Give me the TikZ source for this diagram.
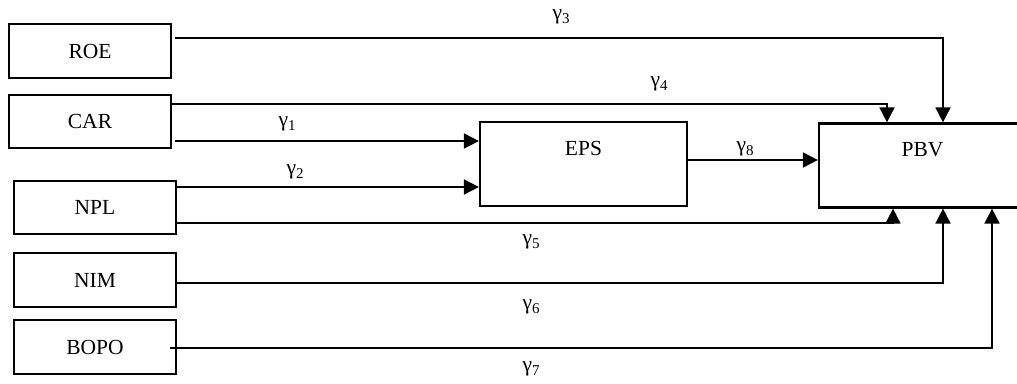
\documentclass[tikz,border=0pt]{standalone}
\usepackage{fontspec}
\setmainfont{Liberation Serif}
\usetikzlibrary{arrows.meta}

% gamma coefficient with a lowered, smaller index
\newcommand\coef[1]{γ\raisebox{-4pt}{\fontsize{15}{15}\selectfont #1}}

\begin{document}
\begin{tikzpicture}[x=1pt,y=-1pt,
  font=\fontsize{21.5}{24}\selectfont,
  varbox/.style={draw,line width=2.2pt,rectangle,inner sep=0pt,
    minimum width=162pt,minimum height=54pt},
  bigbox/.style={draw,line width=2.2pt,rectangle,inner sep=0pt,
    minimum width=207pt,minimum height=84pt},
  link/.style={line width=1.7pt,-{Triangle[length=15pt,width=15pt]}},
  coeflabel/.style={inner sep=0pt}]

\useasboundingbox (0,0) rectangle (1017,383);

% explanatory variables
\node[varbox] (roe)  at (90,51)    {ROE};
\node[varbox,minimum height=53pt] (car)  at (90,121.5) {CAR};
\node[varbox,minimum height=53pt] (npl)  at (95,207.5) {NPL};
\node[varbox] (nim)  at (95,280)   {NIM};
\node[varbox] (bopo) at (95,347)   {BOPO};

% mediator and dependent variable
\node[bigbox,label={[anchor=center,yshift=-28pt]north:EPS}] (eps) at (583.5,164) {};
\node[bigbox,label={[anchor=center,yshift=-27pt]north:PBV}] (pbv) at (922.5,165.5) {};

% free starting points of the connectors
\coordinate (roeS)  at (175,38);
\coordinate (carA)  at (171,104);
\coordinate (carB)  at (175,141);
\coordinate (nplA)  at (176,187);
\coordinate (nplB)  at (176,223);
\coordinate (nimS)  at (176,283);
\coordinate (bopoS) at (170,348);
\coordinate (epsS)  at (687,160);

% paths into EPS
\draw[link] (carB) -- (carB -| eps.west);
\draw[link] (nplA) -- (nplA -| eps.west);
% EPS into PBV
\draw[link] (epsS) -- (epsS -| pbv.west);
% direct paths into PBV from above
\draw[link] (roeS) -| ([xshift=20.5pt]pbv.north);
\draw[link] (carA) -| ([xshift=-35.5pt]pbv.north);
% direct paths into PBV from below
\draw[link] (nplB) -| ([xshift=-29.5pt]pbv.south);
\draw[link] (nimS) -| ([xshift=20.5pt]pbv.south);
\draw[link] (bopoS) -| ([xshift=69.5pt]pbv.south);

% path coefficients
\node[coeflabel] (g1) at (287,124) {\coef{1}};
\node[coeflabel] (g2) at (295,172) {\coef{2}};
\node[coeflabel] (g3) at (561,17)  {\coef{3}};
\node[coeflabel] (g4) at (659,84)  {\coef{4}};
\node[coeflabel] (g5) at (531,242) {\coef{5}};
\node[coeflabel] (g6) at (531,307) {\coef{6}};
\node[coeflabel] (g7) at (531,369) {\coef{7}};
\node[coeflabel] (g8) at (745,149) {\coef{8}};

\end{tikzpicture}
\end{document}
